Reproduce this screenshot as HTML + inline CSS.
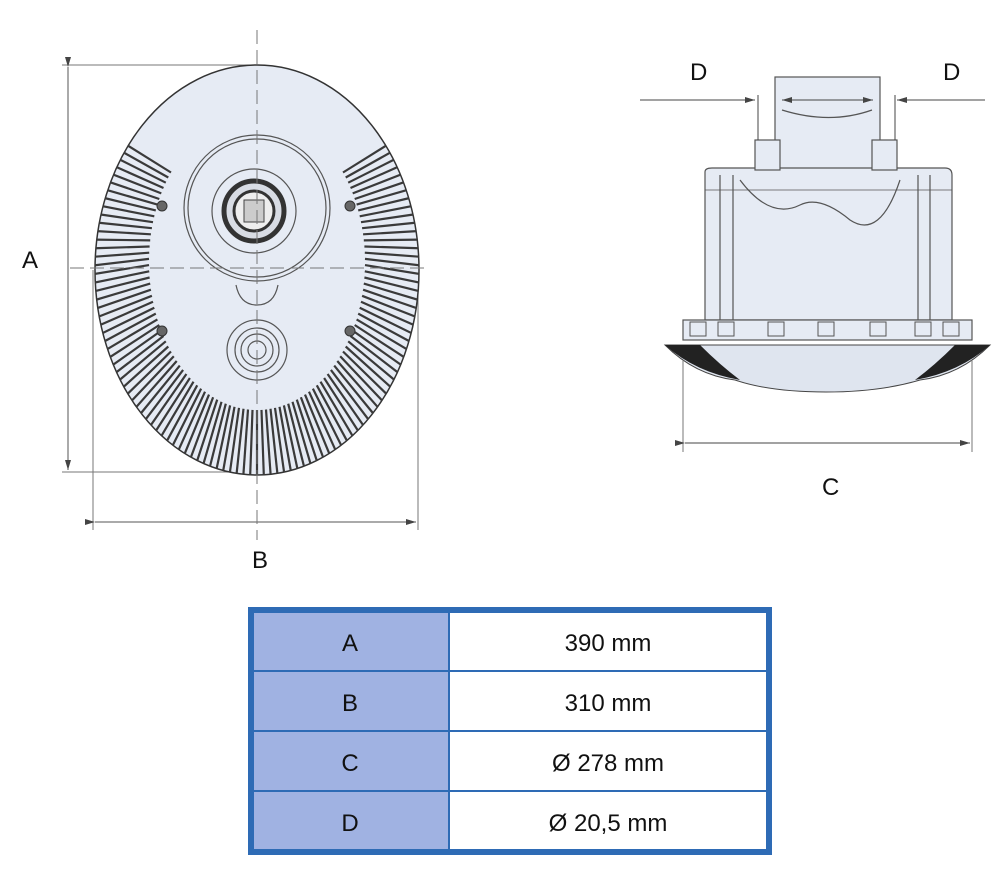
<!DOCTYPE html>
<html><head><meta charset="utf-8"><style>
body{margin:0;background:#fff;width:1000px;height:877px;overflow:hidden;font-family:"Liberation Sans",sans-serif}
svg{position:absolute;left:0;top:0}
</style></head><body>
<svg width="1000" height="877" viewBox="0 0 1000 877">
<defs>
<marker id="ar" markerWidth="10" markerHeight="6" refX="10" refY="3" orient="auto"><path d="M0,0 L10,3 L0,6z" fill="#444"/></marker>
<clipPath id="ring"><ellipse cx="257" cy="270" rx="162" ry="205"/></clipPath>
</defs>
<g stroke="#777" stroke-width="1" fill="none">
<line x1="62" y1="65" x2="257" y2="65"/>
<line x1="62" y1="472" x2="257" y2="472"/>
<line x1="68" y1="67" x2="68" y2="470" marker-start="url(#ar)" marker-end="url(#ar)" stroke="#555"/>
<line x1="93" y1="270" x2="93" y2="530"/>
<line x1="418" y1="270" x2="418" y2="530"/>
<line x1="95" y1="522" x2="416" y2="522" marker-start="url(#ar)" marker-end="url(#ar)" stroke="#555"/>
</g>
<ellipse cx="257" cy="270" rx="162" ry="205" fill="#e6ebf4" stroke="#333" stroke-width="1.5"/>
<g clip-path="url(#ring)" stroke="#3a3a3a" stroke-width="2.2" id="fins"></g>
<g fill="none" stroke="#555" stroke-width="1.2">
<circle cx="257" cy="208" r="73"/><circle cx="257" cy="208" r="69"/>
<circle cx="254" cy="211" r="42"/>
<path d="M236,285 Q240,305 257,305 Q274,305 278,285"/>
<circle cx="257" cy="350" r="30"/><circle cx="257" cy="350" r="22"/><circle cx="257" cy="350" r="16"/><circle cx="257" cy="350" r="9"/>
</g>
<circle cx="254" cy="211" r="30" fill="#d8dce4" stroke="#333" stroke-width="5"/>
<circle cx="254" cy="211" r="20" fill="#eee" stroke="#333" stroke-width="3"/>
<rect x="244" y="200" width="20" height="22" fill="#ccc" stroke="#444"/>
<g fill="#666" stroke="#333"><circle cx="162" cy="206" r="5"/><circle cx="350" cy="206" r="5"/><circle cx="162" cy="331" r="5"/><circle cx="350" cy="331" r="5"/></g>
<g stroke="#777" stroke-width="1" stroke-dasharray="14,6" fill="none">
<line x1="257" y1="30" x2="257" y2="540"/>
<line x1="70" y1="268" x2="430" y2="268"/>
</g>
<text x="22" y="268" font-size="24" fill="#111">A</text>
<text x="252" y="568" font-size="24" fill="#111">B</text>

<g stroke="#555" stroke-width="1.2" fill="#e6ebf4">
<rect x="775" y="77" width="105" height="95"/>
<path d="M705,172 Q705,168 712,168 L945,168 Q952,168 952,175 L952,320 L705,320z"/>
<rect x="755" y="140" width="25" height="30"/>
<rect x="872" y="140" width="25" height="30"/>
<rect x="683" y="320" width="289" height="20"/>
<path d="M720,175 L720,320 M733,175 L733,320 M930,175 L930,320 M918,175 L918,320" fill="none"/>
<path d="M740,180 Q770,220 800,205 Q820,195 850,220 Q880,240 900,180" fill="none"/>
<path d="M782,110 Q830,125 872,110" fill="none"/>
<path d="M705,190 L952,190" fill="none" stroke-width="0.8"/>
</g>
<g fill="#e6ebf4" stroke="#555"><rect x="690" y="322" width="16" height="14"/><rect x="718" y="322" width="16" height="14"/><rect x="768" y="322" width="16" height="14"/><rect x="818" y="322" width="16" height="14"/><rect x="870" y="322" width="16" height="14"/><rect x="915" y="322" width="16" height="14"/><rect x="943" y="322" width="16" height="14"/></g>
<path d="M665,345 L990,345 Q960,375 920,380 Q880,392 826,392 Q770,392 735,380 Q695,375 665,345z" fill="#dfe5ef" stroke="#444"/>
<path d="M665,345 L700,345 Q720,365 740,380 Q695,372 665,345z" fill="#222"/>
<path d="M990,345 L955,345 Q935,365 915,380 Q960,372 990,345z" fill="#222"/>
<g stroke="#444" stroke-width="1" fill="none">
<line x1="640" y1="100" x2="755" y2="100" marker-end="url(#ar)"/>
<line x1="830" y1="100" x2="782" y2="100" marker-end="url(#ar)"/>
<line x1="985" y1="100" x2="897" y2="100" marker-end="url(#ar)"/>
<line x1="825" y1="100" x2="873" y2="100" marker-end="url(#ar)"/>
<line x1="758" y1="95" x2="758" y2="140"/><line x1="895" y1="95" x2="895" y2="140"/>
<line x1="683" y1="360" x2="683" y2="452" stroke="#777"/>
<line x1="972" y1="360" x2="972" y2="452" stroke="#777"/>
<line x1="685" y1="443" x2="970" y2="443" marker-start="url(#ar)" marker-end="url(#ar)"/>
</g>
<text x="690" y="80" font-size="24" fill="#111">D</text>
<text x="943" y="80" font-size="24" fill="#111">D</text>
<text x="822" y="495" font-size="24" fill="#111">C</text>

<rect x="251" y="610" width="518" height="242" fill="#fff" stroke="#2e6bb5" stroke-width="6"/>
<rect x="254" y="613" width="195" height="236" fill="#a0b2e2"/>
<g stroke="#2e6bb5" stroke-width="2">
<line x1="449" y1="613" x2="449" y2="849"/>
<line x1="254" y1="671" x2="766" y2="671"/>
<line x1="254" y1="731" x2="766" y2="731"/>
<line x1="254" y1="791" x2="766" y2="791"/>
</g>
<g font-size="24" fill="#111" text-anchor="middle">
<text x="350" y="651">A</text><text x="608" y="651">390 mm</text>
<text x="350" y="711">B</text><text x="608" y="711">310 mm</text>
<text x="350" y="771">C</text><text x="608" y="771">Ø 278 mm</text>
<text x="350" y="831">D</text><text x="608" y="831">Ø 20,5 mm</text>
</g>
</svg>
<script>
(function(){
var g=document.getElementById('fins'),s='';
for(var i=0;i<150;i++){
 var t=i/150*2*Math.PI;
 var dx=Math.sin(t),dy=-Math.cos(t);
 var y=270+dy*205;
 if(y<140)continue;
 var x1=257+dx*165,y1=270+dy*208,x2=257+dx*108,y2=262+dy*148;
 s+='<line x1="'+x1.toFixed(1)+'" y1="'+y1.toFixed(1)+'" x2="'+x2.toFixed(1)+'" y2="'+y2.toFixed(1)+'"/>';
}
g.innerHTML=s;
})();
</script>
</body></html>
